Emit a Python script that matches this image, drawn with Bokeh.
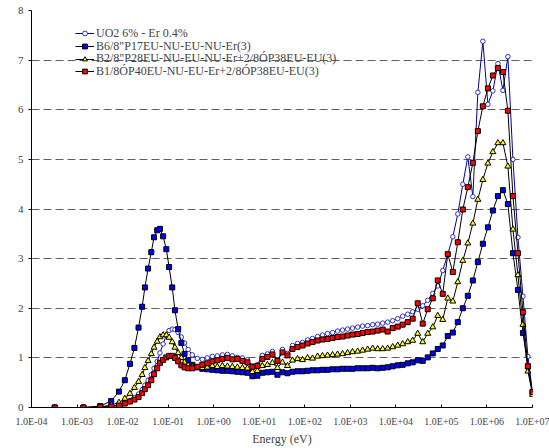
from bokeh.plotting import figure
from bokeh.models import FixedTicker, CustomJSTickFormatter, Legend, LegendItem
from bokeh.embed import file_html
from bokeh.resources import INLINE

# ---------------- data ----------------
energy_ev = [3.24e-4, 1.38e-3, 3.24e-3, 5.62e-3, 8.32e-3, 1.12e-2, 1.45e-2, 1.82e-2,
             2.24e-2, 2.69e-2, 3.09e-2, 3.63e-2, 4.27e-2, 4.90e-2, 5.75e-2, 6.61e-2,
             7.76e-2, 9.12e-2, 0.105, 0.123, 0.141, 0.166, 0.195, 0.229, 0.275,
             0.339, 0.437, 0.562, 0.724, 0.933, 1.20, 1.55, 2.00, 2.57, 3.31, 4.27,
             5.50, 7.08, 9.12, 11.7, 15.1, 19.5, 25.1, 32.4, 41.7, 53.7, 69.2, 89.1,
             115, 148, 191, 245, 316, 407, 525, 676, 871, 1.12e3, 1.45e3, 1.86e3,
             2.40e3, 3.09e3, 3.98e3, 5.13e3, 6.61e3, 8.51e3, 1.10e4, 1.41e4, 1.82e4,
             2.34e4, 3.02e4, 3.89e4, 5.01e4, 6.46e4, 8.32e4, 1.07e5, 1.38e5, 1.78e5,
             2.29e5, 2.95e5, 3.80e5, 4.90e5, 6.31e5, 8.13e5, 1.05e6, 1.35e6, 1.74e6,
             2.24e6, 2.88e6, 3.72e6, 4.79e6, 6.17e6, 7.94e6, 1.00e7]

uo2_er = [0.00, 0.00, 0.00, 0.02, 0.05, 0.09, 0.14, 0.20, 0.27, 0.36, 0.45, 0.55, 0.66,
          0.79, 0.93, 1.10, 1.28, 1.45, 1.55, 1.58, 1.57, 1.51, 1.42, 1.30, 1.17,
          1.06, 0.99, 0.97, 1.00, 1.03, 1.04, 1.06, 1.07, 1.04, 1.01, 1.00, 0.96, 0.84,
          0.86, 1.05, 1.08, 1.13, 0.93, 1.17, 1.09, 1.25, 1.29, 1.31, 1.36, 1.39, 1.43,
          1.46, 1.49, 1.51, 1.54, 1.56, 1.58, 1.60, 1.62, 1.64, 1.65, 1.67, 1.68, 1.70,
          1.72, 1.75, 1.79, 1.84, 1.88, 1.93, 1.98, 2.05, 2.16, 2.30, 2.45, 2.76, 3.09,
          3.44, 3.90, 4.50, 5.05, 4.25, 6.35, 7.38, 6.11, 6.38, 6.93, 6.39, 7.07, 5.00,
          3.43, 2.24, 1.03, 0.31]

b6 = [0.00, 0.00, 0.03, 0.13, 0.32, 0.55, 0.88, 1.20, 1.61, 2.03, 2.42, 2.80, 3.13,
      3.43, 3.57, 3.60, 3.45, 3.19, 2.83, 2.42, 1.96, 1.58, 1.30, 1.08, 0.95,
      0.86, 0.81, 0.78, 0.77, 0.76, 0.75, 0.74, 0.74, 0.73, 0.72, 0.71, 0.70, 0.63,
      0.64, 0.70, 0.71, 0.72, 0.66, 0.71, 0.69, 0.72, 0.73, 0.73, 0.74, 0.75, 0.75,
      0.76, 0.76, 0.77, 0.77, 0.78, 0.78, 0.78, 0.79, 0.79, 0.79, 0.80, 0.79, 0.80,
      0.81, 0.83, 0.85, 0.86, 0.89, 0.91, 0.95, 0.94, 1.01, 1.09, 1.18, 1.25, 1.44,
      1.51, 1.72, 2.00, 2.25, 2.56, 2.93, 3.30, 3.63, 3.97, 4.26, 4.38, 4.10, 3.11,
      2.37, 1.50, 0.83, 0.31]

b2 = [0.00, 0.00, 0.01, 0.05, 0.10, 0.18, 0.28, 0.40, 0.52, 0.66, 0.80, 0.94, 1.08,
      1.21, 1.33, 1.42, 1.46, 1.46, 1.41, 1.32, 1.21, 1.10, 1.00, 0.91, 0.85,
      0.82, 0.80, 0.80, 0.81, 0.84, 0.82, 0.84, 0.83, 0.82, 0.81, 0.80, 0.79, 0.72,
      0.74, 0.84, 0.86, 0.90, 0.80, 0.91, 0.84, 0.95, 0.98, 0.96, 1.00, 0.99, 1.03,
      1.04, 1.05, 1.06, 1.07, 1.08, 1.10, 1.12, 1.13, 1.15, 1.17, 1.19, 1.18, 1.18,
      1.19, 1.22, 1.25, 1.28, 1.32, 1.35, 1.49, 1.32, 1.49, 1.62, 1.85, 1.77, 2.20,
      2.14, 2.53, 2.96, 3.31, 3.71, 4.19, 4.59, 4.92, 5.15, 5.33, 5.33, 4.86, 3.59,
      2.67, 1.67, 0.73, 0.26]

b1 = [0.00, 0.00, 0.01, 0.02, 0.04, 0.08, 0.12, 0.16, 0.21, 0.29, 0.37, 0.45, 0.55,
      0.67, 0.79, 0.90, 0.96, 1.01, 1.04, 1.04, 1.00, 0.93, 0.85, 0.81, 0.79,
      0.79, 0.82, 0.86, 0.89, 0.93, 0.95, 0.98, 1.00, 0.97, 0.98, 0.94, 0.91, 0.82,
      0.84, 0.98, 1.02, 1.07, 0.94, 1.11, 1.05, 1.18, 1.22, 1.25, 1.29, 1.32, 1.35,
      1.37, 1.38, 1.40, 1.42, 1.43, 1.45, 1.47, 1.48, 1.50, 1.52, 1.53, 1.55, 1.57,
      1.53, 1.60, 1.63, 1.67, 1.72, 1.79, 2.10, 1.69, 1.98, 2.20, 2.56, 2.29, 3.09,
      2.73, 3.33, 3.99, 4.44, 4.93, 5.57, 6.07, 6.43, 6.69, 6.84, 6.76, 5.98, 4.26,
      3.11, 1.92, 0.83, 0.31]

series_names = ["UO2 6% - Er 0.4%",
                "B6/8\"P17EU-NU-EU-NU-Er(3)",
                "B2/8\"P28EU-NU-EU-NU-Er+2/8\u00d3P38EU-EU(3)",
                "B1/8\u00d3P40EU-NU-EU-Er+2/8\u00d3P38EU-EU(3)"]

x_ticks = [1e-4, 1e-3, 1e-2, 1e-1, 1e0, 1e1, 1e2, 1e3, 1e4, 1e5, 1e6, 1e7]
y_ticks = [0, 1, 2, 3, 4, 5, 6, 7, 8]

FONT = "Liberation Serif"

# ---------------- figure ----------------
p = figure(width=549, height=448, x_axis_type="log",
           x_range=(1e-4, 1e7), y_range=(0, 8),
           output_backend="svg", toolbar_location=None,
           min_border_left=31, min_border_right=17,
           min_border_top=10, min_border_bottom=40)
p.outline_line_color = None
p.background_fill_color = "white"

# axes
p.xaxis.ticker = FixedTicker(ticks=x_ticks, minor_ticks=[])
p.xaxis.formatter = CustomJSTickFormatter(code="""
const e = Math.round(Math.log10(tick));
const s = e < 0 ? '-' : '+';
const a = Math.abs(e);
return '1.0E' + s + (a < 10 ? '0' : '') + a;
""")
p.xaxis.major_tick_in = 3
p.xaxis.major_tick_out = 0
p.xaxis.minor_tick_line_color = None
p.xaxis.major_label_text_font = FONT
p.xaxis.major_label_text_font_size = "10px"
p.xaxis.major_label_standoff = 8
p.xaxis.axis_label = "Energy (eV)"
p.xaxis.axis_label_text_font = FONT
p.xaxis.axis_label_text_font_style = "normal"
p.xaxis.axis_label_text_font_size = "12px"
p.xaxis.axis_label_standoff = 2
p.xaxis.axis_line_color = "black"

p.yaxis.ticker = FixedTicker(ticks=y_ticks, minor_ticks=[])
p.yaxis.major_tick_in = 0
p.yaxis.major_tick_out = 3
p.yaxis.minor_tick_line_color = None
p.yaxis.major_label_text_font = FONT
p.yaxis.major_label_text_font_size = "11px"
p.yaxis.major_label_standoff = 5
p.yaxis.axis_line_color = "black"

p.xgrid.grid_line_color = None
p.ygrid.grid_line_color = "#606060"
p.ygrid.grid_line_dash = "8 4"
p.ygrid.grid_line_width = 1

# ---------------- series ----------------
styles = [
    dict(values=uo2_er, line="#000099", marker="circle", size=4.5, fill="white", edge="#3030c8"),
    dict(values=b6, line="black", marker="square", size=5, fill="#0000ff", edge="black"),
    dict(values=b2, line="black", marker="triangle", size=6, fill="#ffff00", edge="black"),
    dict(values=b1, line="black", marker="square", size=5, fill="#ff0000", edge="black"),
]

# one single-row legend per series, so the row pitch matches the reference exactly
legend_offsets = [366.2, 353.5, 340.8, 328.2]

for name, st, vy in zip(series_names, styles, legend_offsets):
    r_line = p.line(energy_ev, st["values"], line_color=st["line"], line_width=1)
    r_mark = p.scatter(energy_ev, st["values"], marker=st["marker"], size=st["size"],
                       fill_color=st["fill"], line_color=st["edge"], line_width=1)
    lg = Legend(items=[LegendItem(label=name, renderers=[r_line, r_mark])],
                location=(44, vy), margin=0, padding=0, spacing=0,
                glyph_width=19, glyph_height=12, label_height=12, label_standoff=2,
                label_text_font=FONT, label_text_font_size="12px",
                border_line_color=None, background_fill_alpha=0)
    p.add_layout(lg)

open("out.html", "w").write(file_html(p, INLINE))
